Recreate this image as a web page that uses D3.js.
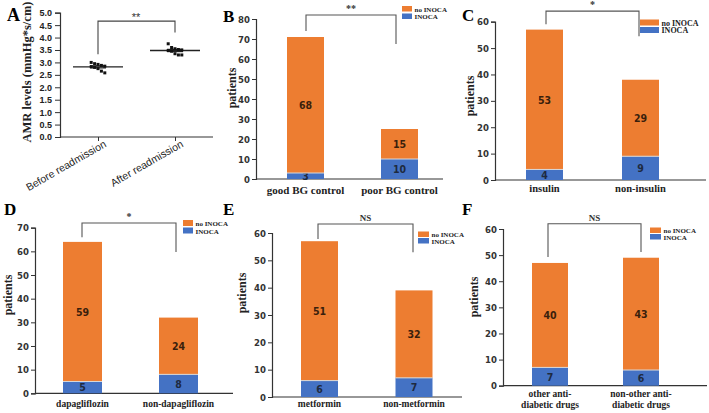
<!DOCTYPE html>
<html>
<head>
<meta charset="utf-8">
<script src="https://cdn.jsdelivr.net/npm/d3@7"></script>
<style>
  body { margin: 0; background: #fff; }
  svg { display: block; }
  .serif { font-family: "Liberation Serif", "Times New Roman", serif; font-weight: bold; }
  .narrow { font-family: "Liberation Sans Narrow", "DejaVu Sans Condensed", "DejaVu Sans", sans-serif; font-stretch: condensed; }
</style>
</head>
<body>
<svg id="chart" width="709" height="413"></svg>
<script>
// ---- panel A : AMR levels ----
const aCategories = ["Before readmission", "After readmission"];
const aBefore = [3.0, 2.95, 2.92, 2.88, 2.85, 2.83, 2.8, 2.75, 2.65, 2.58];
const aAfter = [3.75, 3.6, 3.55, 3.52, 3.5, 3.48, 3.45, 3.35, 3.3, 3.3];
const aTicks = [0, 0.5, 1, 1.5, 2, 2.5, 3, 3.5, 4, 4.5, 5];

// ---- panels B-F : patients, stacked ----
const bCategories = ["good BG control", "poor BG control"];
const bInoca = [3, 10];
const bNoInoca = [68, 15];

const cCategories = ["insulin", "non-insulin"];
const cInoca = [4, 9];
const cNoInoca = [53, 29];

const dCategories = ["dapagliflozin", "non-dapagliflozin"];
const dInoca = [5, 8];
const dNoInoca = [59, 24];

const eCategories = ["metformin", "non-metformin"];
const eInoca = [6, 7];
const eNoInoca = [51, 32];

const fCategories = ["other anti-|diabetic drugs", "non-other anti-|diabetic drugs"];
const fInoca = [7, 6];
const fNoInoca = [40, 43];

const seriesNames = ["no INOCA", "INOCA"];
const orange = "#ED7D31", blue = "#4472C4";

const svg = d3.select("#chart");

/*
* Panel A: scatter dot plot with mean and SEM
*/
function drawA() {
	const g = svg.append("g");
	const y = d3.scaleLinear().domain([0, 5]).range([137, 12.7]);
	const x = d3.scalePoint().domain(aCategories).range([98, 175]);

	g.append("g")
		.attr("transform", "translate(60,0)")
		.call(d3.axisLeft(y).tickValues(aTicks).tickFormat(d3.format(".1f")).tickSize(5))
		.call(a => a.select(".domain").attr("stroke", "#333").attr("stroke-width", 1.2))
		.call(a => a.selectAll("line").attr("stroke", "#333"))
		.call(a => a.selectAll("text").attr("font-family", "Liberation Sans, Arial, sans-serif")
			.attr("font-weight", "bold").attr("font-size", 9).attr("fill", "#222"));

	// x axis with slanted category labels
	g.append("g")
		.attr("transform", "translate(0,137)")
		.call(d3.axisBottom(x).tickSize(4).tickSizeOuter(0))
		.call(a => a.select(".domain").remove())
		.call(a => a.selectAll("line").attr("stroke", "#333"))
		.call(a => a.selectAll("text")
			.attr("font-family", "Liberation Sans, Arial, sans-serif")
			.attr("font-size", 10.5).attr("fill", "#222")
			.attr("text-anchor", "end")
			.attr("dy", "0")
			.attr("transform", "translate(5,3) rotate(-30)"));

	g.append("line").attr("x1", 60).attr("x2", 213).attr("y1", 137).attr("y2", 137)
		.attr("stroke", "#333").attr("stroke-width", 1.2);

	aCategories.forEach((c, ci) => {
		const vals = ci === 0 ? aBefore : aAfter;
		const cx = x(c);
		const mean = d3.mean(vals);
		const sem = d3.deviation(vals) / Math.sqrt(vals.length);
		g.append("line").attr("x1", cx - 25).attr("x2", cx + 25)
			.attr("y1", y(mean)).attr("y2", y(mean)).attr("stroke", "#222").attr("stroke-width", 1.3);
		[mean - sem, mean + sem].forEach(v => {
			g.append("line").attr("x1", cx - 8).attr("x2", cx + 8)
				.attr("y1", y(v)).attr("y2", y(v)).attr("stroke", "#222").attr("stroke-width", 1.2);
		});
		g.selectAll(null).data(vals).enter().append("rect")
			.attr("x", (d, i) => cx + ((i % 5) - 2) * 3.4 - 1.5)
			.attr("y", d => y(d) - 1.5)
			.attr("width", 3).attr("height", 3)
			.attr("fill", "#111");
	});

	// significance bracket
	const br = d3.path();
	br.moveTo(x(aCategories[0]), y(3.33));
	br.lineTo(x(aCategories[0]), y(4.66));
	br.lineTo(x(aCategories[1]), y(4.66));
	br.lineTo(x(aCategories[1]), y(4.2));
	g.append("path").attr("d", br.toString()).attr("fill", "none").attr("stroke", "#444").attr("stroke-width", 1.1);
	g.append("text").attr("x", 136).attr("y", 21).attr("text-anchor", "middle")
		.attr("font-family", "Liberation Sans, Arial, sans-serif").attr("font-size", 11).attr("fill", "#333").text("**");

	g.append("text")
		.attr("transform", "translate(31,72) rotate(-90)")
		.attr("text-anchor", "middle")
		.attr("class", "serif").attr("font-weight", "normal")
		.attr("font-size", 12.5).attr("fill", "#222")
		.text("AMR levels (mmHg*s/cm)");

	g.append("text").attr("x", 7).attr("y", 21).attr("class", "serif")
		.attr("font-size", 18).text("A");
}

/*
* Panels B-F: stacked bars
*/
function drawStacked(p) {
	const g = svg.append("g");
	const y = d3.scaleLinear().domain([0, p.yMax]).range([p.y0, p.yTop]);
	const x = d3.scalePoint().domain(p.categories).range(p.centers);

	g.append("g")
		.attr("transform", "translate(" + p.ax + ",0)")
		.call(d3.axisLeft(y).ticks(p.yMax / 10).tickSize(4).tickPadding(2))
		.call(a => a.select(".domain").attr("stroke", "#333").attr("stroke-width", 1.2))
		.call(a => a.selectAll("line").attr("stroke", "#333"))
		.call(a => a.selectAll("text").attr("class", "narrow")
			.attr("font-size", 9.5).attr("font-weight", "bold").attr("fill", "#333"));

	g.append("line").attr("x1", p.ax).attr("x2", p.xEnd).attr("y1", p.y0).attr("y2", p.y0)
		.attr("stroke", "#333").attr("stroke-width", 1.2);

	const rows = p.categories.map((c, i) => ({ cat: c, inoca: p.inoca[i], noInoca: p.noInoca[i] }));
	const stack = d3.stack().keys(["inoca", "noInoca"])(rows);
	const colors = [blue, orange];

	stack.forEach((layer, li) => {
		g.selectAll(null).data(layer).enter().append("rect")
			.attr("x", d => x(d.data.cat) - p.bw / 2)
			.attr("y", d => y(d[1]))
			.attr("width", p.bw)
			.attr("height", d => y(d[0]) - y(d[1]))
			.attr("fill", colors[li]);
		g.selectAll(null).data(layer).enter().append("text")
			.attr("x", d => x(d.data.cat))
			.attr("y", d => (y(d[0]) + y(d[1])) / 2 + 4)
			.attr("text-anchor", "middle")
			.attr("class", "narrow").attr("font-weight", "bold")
			.attr("font-size", 10.5)
			.attr("fill", li === 0 ? "#1e2a40" : "#3a1f0c")
			.text(d => d[1] - d[0]);
	});
	// light seam between segments
	g.selectAll(null).data(rows).enter().append("line")
		.attr("x1", d => x(d.cat) - p.bw / 2).attr("x2", d => x(d.cat) + p.bw / 2)
		.attr("y1", d => y(d.inoca)).attr("y2", d => y(d.inoca))
		.attr("stroke", "#d8d8d8").attr("stroke-width", 1);

	// category labels
	p.categories.forEach(c => {
		const lines = c.split("|");
		lines.forEach((t, k) => {
			g.append("text").attr("x", x(c)).attr("y", p.xlabY + k * 11)
				.attr("text-anchor", "middle").attr("class", "serif")
				.attr("font-size", p.xlabSize).attr("fill", "#222").text(t);
		});
	});

	// significance bracket
	const br = d3.path();
	br.moveTo(p.bracketX[0], y(p.bracket[0]));
	br.lineTo(p.bracketX[0], y(p.bracket[1]));
	br.lineTo(p.bracketX[1], y(p.bracket[1]));
	br.lineTo(p.bracketX[1], y(p.bracket[2]));
	g.append("path").attr("d", br.toString()).attr("fill", "none").attr("stroke", "#555").attr("stroke-width", 1.1);
	g.append("text").attr("x", (p.bracketX[0] + p.bracketX[1]) / 2).attr("y", y(p.bracket[1]) - 3)
		.attr("text-anchor", "middle").attr("class", "serif")
		.attr("font-size", p.sig === "NS" ? 9 : 10).attr("fill", "#333").text(p.sig);

	// legend
	const lg = p.legend;
	[orange, blue].forEach((col, i) => {
		const ry = lg.y + i * lg.step;
		g.append("rect").attr("x", lg.x).attr("y", ry)
			.attr("width", lg.w).attr("height", lg.h).attr("fill", col);
		g.append("text").attr("x", lg.x + lg.w + 2.5).attr("y", ry + lg.h)
			.attr("class", "serif").attr("font-size", lg.fs).attr("fill", "#222")
			.text(seriesNames[i]);
	});

	g.append("text")
		.attr("transform", "translate(" + p.ylab[0] + "," + p.ylab[1] + ") rotate(-90)")
		.attr("text-anchor", "middle").attr("class", "serif")
		.attr("font-size", 12).attr("fill", "#222").text("patients");

	g.append("text").attr("x", p.letter[0]).attr("y", p.letter[1]).attr("class", "serif")
		.attr("font-size", 17).text(p.id);
}

drawA();

drawStacked({ id: "B", categories: bCategories, inoca: bInoca, noInoca: bNoInoca, yMax: 80,
	ax: 256, y0: 179, yTop: 19, xEnd: 443, centers: [305.5, 399.5], bw: 37,
	xlabY: 194, xlabSize: 11, bracket: [74, 82, 67.5], bracketX: [306, 396], sig: "**",
	legend: { x: 402, y: 6, w: 10, h: 5.5, step: 7.5, fs: 7 }, ylab: [236, 88], letter: [223, 22] });

drawStacked({ id: "C", categories: cCategories, inoca: cInoca, noInoca: cNoInoca, yMax: 60,
	ax: 495, y0: 180, yTop: 21.7, xEnd: 706, centers: [544.5, 640.5], bw: 37,
	xlabY: 192, xlabSize: 10.5, bracket: [59, 64, 54.5], bracketX: [546, 639], sig: "*",
	legend: { x: 640, y: 19.5, w: 19, h: 6, step: 7.5, fs: 8 }, ylab: [474, 96], letter: [462, 21] });

drawStacked({ id: "D", categories: dCategories, inoca: dInoca, noInoca: dNoInoca, yMax: 70,
	ax: 35, y0: 393.3, yTop: 227.7, xEnd: 233, centers: [82.5, 178.5], bw: 39,
	xlabY: 407, xlabSize: 9.5, bracket: [66, 72, 59.7], bracketX: [82, 176], sig: "*",
	legend: { x: 183, y: 220, w: 10, h: 6, step: 7.5, fs: 7 }, ylab: [12, 295], letter: [4, 215] });

drawStacked({ id: "E", categories: eCategories, inoca: eInoca, noInoca: eNoInoca, yMax: 60,
	ax: 272, y0: 397, yTop: 233, xEnd: 462, centers: [319.5, 414], bw: 37,
	xlabY: 407, xlabSize: 9.5, bracket: [57.8, 63.3, 53], bracketX: [318, 413], sig: "NS",
	legend: { x: 418, y: 231.5, w: 11, h: 5.5, step: 6.5, fs: 7 }, ylab: [246, 293], letter: [223, 215] });

drawStacked({ id: "F", categories: fCategories, inoca: fInoca, noInoca: fNoInoca, yMax: 60,
	ax: 503, y0: 385.7, yTop: 229, xEnd: 707, centers: [550, 641], bw: 36,
	xlabY: 397, xlabSize: 9.5, bracket: [49.3, 62, 51.2], bracketX: [548, 641], sig: "NS",
	legend: { x: 650, y: 227.5, w: 11, h: 5.5, step: 6.5, fs: 7 }, ylab: [478, 297], letter: [462, 215] });
</script>
</body>
</html>
